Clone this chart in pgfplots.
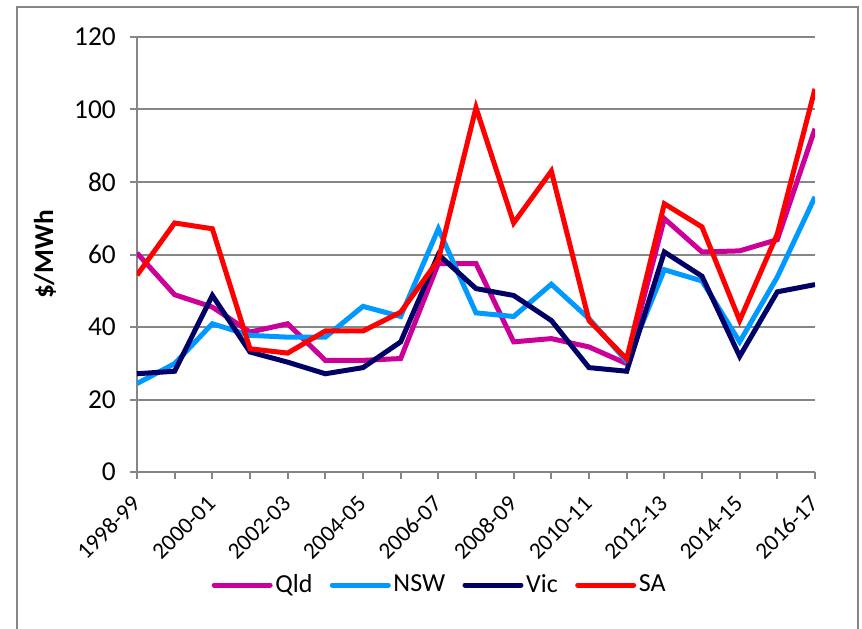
\documentclass[border=0pt]{standalone}
\usepackage{pgfplots}
\pgfplotsset{compat=1.18}
\usepackage{fontspec}
\setmainfont{Carlito}
\definecolor{qld}{RGB}{204,0,153}
\definecolor{nsw}{RGB}{0,153,255}
\definecolor{vic}{RGB}{0,0,102}
\definecolor{sa}{RGB}{255,0,0}
\definecolor{axgray}{RGB}{134,134,134}
\begin{document}
\begin{tikzpicture}
\fontsize{19.5}{23}\selectfont
\begin{axis}[
  at={(0pt,0pt)}, anchor=south west,
  scale only axis,
  width=508.5pt, height=326.25pt,
  xmin=0, xmax=18, ymin=0, ymax=120,
  axis x line*=bottom, axis y line*=left,
  axis line style={draw=axgray, line width=1.5pt},
  every tick/.style={draw=axgray, line width=1.5pt},
  tick align=outside,
  major tick length=5.25pt,
  ytick={0,20,...,120},
  ymajorgrids,
  grid style={draw=axgray, line width=1.5pt},
  xtick={0,...,18},
  xticklabels={1998-99,,2000-01,,2002-03,,2004-05,,2006-07,,2008-09,,2010-11,,2012-13,,2014-15,,2016-17},
  xticklabel style={yshift=-11pt, xshift=4pt, rotate=45, anchor=east, font=\fontsize{17.5}{20}\selectfont},
  yticklabel style={font=\fontsize{20.5}{24}\selectfont, xshift=-4pt},
  /pgf/number format/assume math mode=true,
  ylabel={\textbf{\$/MWh}},
  every axis y label/.style={at={(axis description cs:-0.1357,0.5)}, rotate=90, anchor=center, font=\fontsize{20.5}{24}\selectfont},
  legend columns=4,
  legend style={draw=none, fill=none, at={(227.25pt,-84.75pt)}, anchor=center,
    font=\fontsize{19.5}{23}\selectfont,
    /tikz/every even column/.append style={column sep=11pt},
    inner sep=0pt},
  legend image code/.code={\draw[#1, line cap=round] (0pt,0pt) -- (42pt,0pt);},
  every axis plot/.append style={line width=3.75pt},
]
\addplot[qld] coordinates {(0,60.4)(1,48.9)(2,45.5)(3,38.6)(4,40.9)(5,30.8)(6,30.8)(7,31.3)(8,57.5)(9,57.5)(10,35.9)(11,36.8)(12,34.5)(13,29.9)(14,69.9)(15,60.7)(16,61.0)(17,64.1)(18,94.7)};
\addlegendentry{Qld}
\addplot[nsw] coordinates {(0,24.4)(1,29.9)(2,40.9)(3,37.7)(4,37.2)(5,37.2)(6,45.7)(7,42.9)(8,67.1)(9,43.9)(10,42.9)(11,51.8)(12,42.3)(13,30.5)(14,55.8)(15,52.7)(16,35.9)(17,53.8)(18,75.9)};
\addlegendentry{NSW}
\addplot[vic] coordinates {(0,27.1)(1,27.8)(2,48.7)(3,33.1)(4,30.3)(5,27.1)(6,28.8)(7,35.9)(8,60.0)(9,50.6)(10,48.7)(11,41.8)(12,28.8)(13,27.8)(14,60.7)(15,54.0)(16,31.9)(17,49.7)(18,51.7)};
\addlegendentry{Vic}
\addplot[sa] coordinates {(0,54.3)(1,68.7)(2,67.1)(3,34.0)(4,32.8)(5,38.9)(6,38.9)(7,44.1)(8,58.5)(9,100.5)(10,68.7)(11,83.0)(12,41.8)(13,31.2)(14,74.0)(15,67.6)(16,41.8)(17,65.7)(18,105.7)};
\addlegendentry{SA}
\end{axis}
\draw[axgray, line width=1.5pt] (-90pt,-130pt) -- (-90pt,348.75pt) -- (540.75pt,348.75pt) -- (540.75pt,-130pt);
\pgfresetboundingbox
\path[use as bounding box] (-102.75pt,-117pt) rectangle (543.75pt,354pt);
\end{tikzpicture}
\end{document}
